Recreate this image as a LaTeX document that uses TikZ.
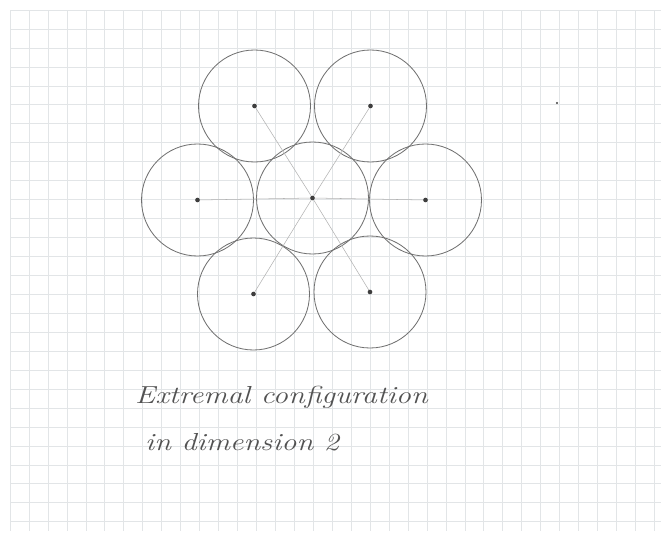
\documentclass[tikz,border=0pt]{standalone}
\usepackage{graphicx}
\usepackage{tikz}
\definecolor{PencilGray}{RGB}{112,112,112}
\definecolor{SpokeGray}{RGB}{178,178,178}
\definecolor{GridBlue}{RGB}{226,229,231}
\definecolor{LeadDark}{RGB}{62,62,62}
\definecolor{InkGray}{RGB}{82,82,82}
\newcommand{\penny}[1]{%
  \draw[PencilGray,line width=0.7pt] (#1) circle[radius=56];}

\begin{document}
\begin{tikzpicture}[x=0.03cm,y=-0.03cm,
  centre/.style={circle,fill=LeadDark,inner sep=0pt,minimum size=0.14cm},
  spoke/.style={SpokeGray,line width=0.45pt},
  caption/.style={anchor=base west,inner sep=0pt,text=InkGray,
    font=\fontsize{21}{25}\selectfont\itshape}]
  \useasboundingbox (0,0) rectangle (661,533);
  \fill[white] (0,0) rectangle (661,533);
  % squared paper
  \foreach \i in {0,...,34}
    \draw[GridBlue,line width=0.5pt] ({10+18.95*\i},10)--({10+18.95*\i},531);
  \foreach \j in {0,...,27}
    \draw[GridBlue,line width=0.5pt] (10,{10+18.95*\j})--(661,{10+18.95*\j});

  \node[centre] (c)  at (312.5,198) {};
  \node[centre] (l)  at (197.5,200) {};
  \node[centre] (r)  at (425.5,200) {};
  \node[centre] (tl) at (254.5,106) {};
  \node[centre] (tr) at (370.5,106) {};
  \node[centre] (bl) at (253.5,294) {};
  \node[centre] (br) at (370,292) {};

  \penny{c} \penny{l} \penny{r}
  \penny{tl} \penny{tr} \penny{bl} \penny{br}

  \draw[spoke] (l)--(c)--(r);
  \draw[spoke] (tl)--(c)--(br);
  \draw[spoke] (tr)--(c)--(bl);

  \fill[LeadDark] (557,103) circle[radius=1.2];

  \node[caption] (line1) at (135,403) {\scalebox{1.23}[1]{Extremal configuration}};
  \node[caption] (line2) at (145,450) {\scalebox{1.23}[1]{in dimension 2}};
\end{tikzpicture}
\end{document}
